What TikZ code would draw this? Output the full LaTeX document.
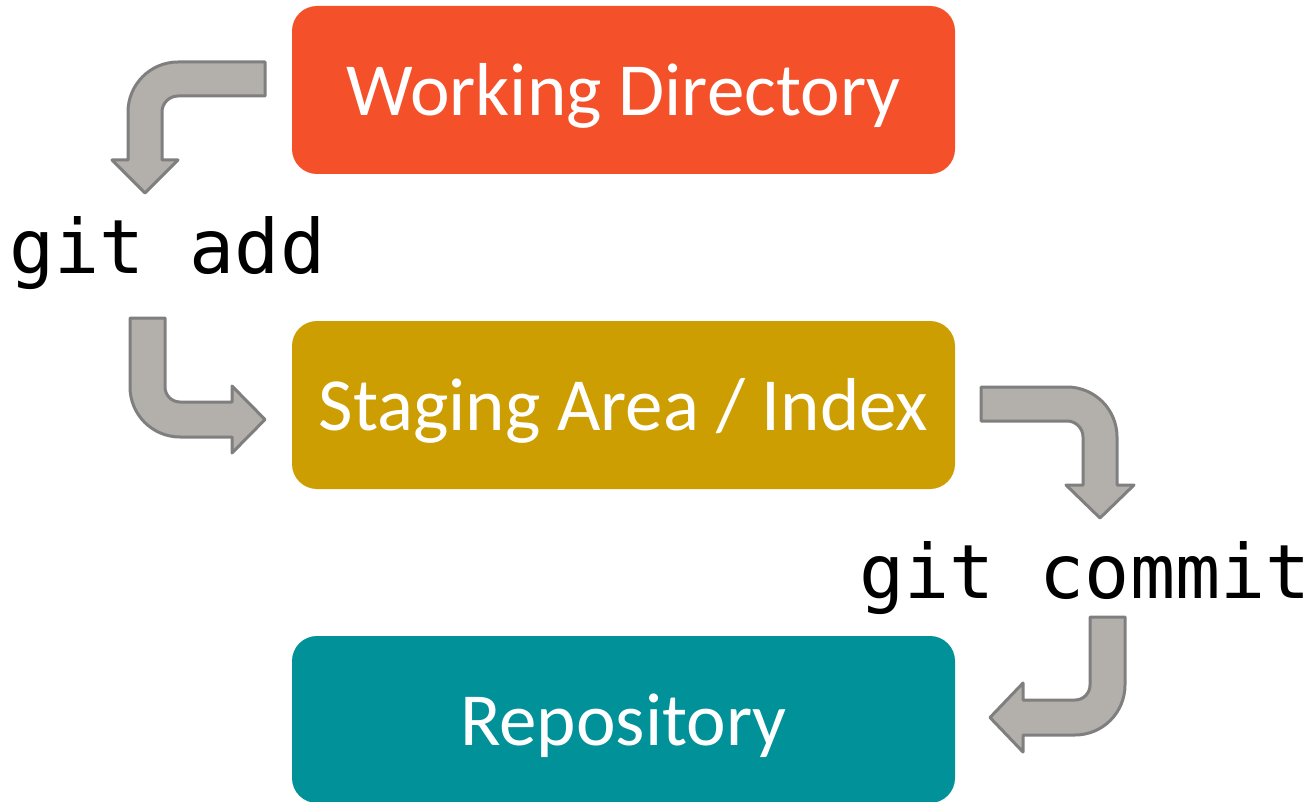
\documentclass[tikz,border=0pt]{standalone}
\usepackage{fontspec}
\setmainfont{Carlito}
\newfontfamily\codefont{DejaVu Sans Mono}
\definecolor{wdcol}{HTML}{F4502A}
\definecolor{sacol}{HTML}{CC9E02}
\definecolor{repcol}{HTML}{009199}
\definecolor{arrfill}{HTML}{B3AFAB}
\definecolor{arrdraw}{HTML}{7F7F7F}
\tikzset{
  areabox/.style={fill=#1, draw=none, rounded corners=25pt, minimum width=663pt, minimum height=168pt, inner sep=0pt, text=white, text height=60pt, text depth=9pt, font=\fontsize{75}{90}\selectfont},
  cmdtext/.style={inner sep=0pt, anchor=base west, font=\codefont\fontsize{75}{90}\selectfont},
  blockarrow/.style={fill=arrfill, draw=arrdraw, line width=3pt, line join=round}
}
\begin{document}
\begin{tikzpicture}[x=1pt,y=-1pt]
\useasboundingbox (0,0) rectangle (1316,802);
\node[areabox=wdcol] (wd) at (623.5,90) {Working Directory};
\node[areabox=sacol] (sa) at (623.5,405) {Staging Area / Index};
\node[areabox=repcol, minimum height=167pt] (rep) at (623.5,719.5) {Repository};
\node[cmdtext] (add) at (9,273) {git add};
\node[cmdtext] (commit) at (859,598) {git commit};
% arrow 1: left then down
\draw[blockarrow] (265,62) -- (178,62) .. controls (150.4,62) and (128,84.4) .. (128,112) -- (128,160) -- (112,160) -- (145,193) -- (178,160) -- (162,160) -- (162,112) .. controls (162,103.2) and (169.2,96) .. (178,96) -- (265,96) -- cycle;
% arrow 2: down then right
\draw[blockarrow] (130,318) -- (130,387) .. controls (130,414.6) and (152.4,437) .. (180,437) -- (232,437) -- (232,453) -- (265,419.5) -- (232,386) -- (232,402) -- (180,402) .. controls (171.7,402) and (165,395.3) .. (165,387) -- (165,318) -- cycle;
% arrow 3: right then down
\draw[blockarrow] (981,387) -- (1067,387) .. controls (1094.6,387) and (1117,409.4) .. (1117,437) -- (1117,485) -- (1134,485) -- (1100,518) -- (1066,485) -- (1083,485) -- (1083,437) .. controls (1083,428.2) and (1075.8,421) .. (1067,421) -- (981,421) -- cycle;
% arrow 4: down then left
\draw[blockarrow] (1125,617) -- (1125,685) .. controls (1125,712.6) and (1102.6,735) .. (1075,735) -- (1023,735) -- (1023,752) -- (990,717.5) -- (1023,683) -- (1023,700) -- (1075,700) .. controls (1083.3,700) and (1090,693.3) .. (1090,685) -- (1090,617) -- cycle;
\end{tikzpicture}
\end{document}
